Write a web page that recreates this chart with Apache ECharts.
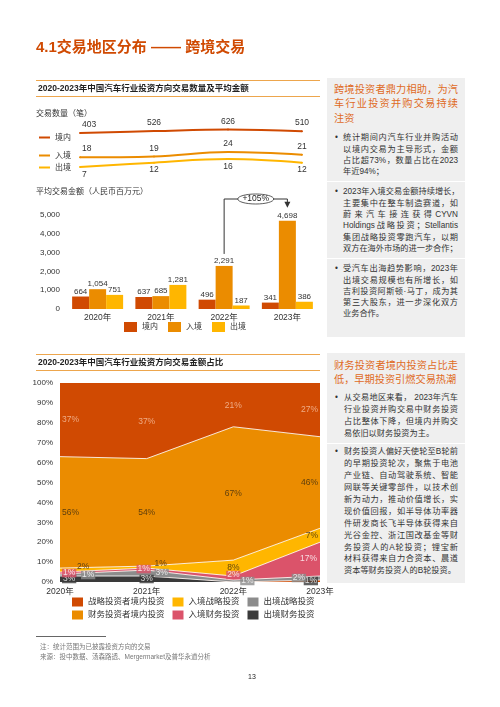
<!DOCTYPE html>
<html lang="zh-CN">
<head>
<meta charset="utf-8">
<title>4.1交易地区分布 —— 跨境交易</title>
<script src="https://cdn.jsdelivr.net/npm/echarts@6.0.0/dist/echarts.min.js"></script>
<style>
html,body{margin:0;padding:0;background:#fff;}
body{width:500px;height:707px;position:relative;overflow:hidden;font-family:"Liberation Sans","Noto Sans CJK SC",sans-serif;color:#333;}
#chart{position:absolute;left:0;top:0;width:500px;height:707px;}
.ov{position:absolute;z-index:2;}
.title{left:36px;top:37px;font-size:15px;line-height:20px;font-weight:bold;color:#D04A02;white-space:nowrap;}
.hdr{left:36px;width:284px;height:17px;box-sizing:border-box;border-top:1.5px solid #EDA64D;border-bottom:1.5px solid #EDA64D;font-size:8.5px;line-height:14px;font-weight:bold;color:#222;padding-left:2px;white-space:nowrap;}
.panel{left:327px;width:138px;background:#EFEFEF;box-sizing:border-box;padding-left:7px;padding-right:7px;}
.pt{color:#DF6B1F;font-size:10.2px;}
.ln{white-space:nowrap;text-align:justify;text-align-last:justify;}
.ln.last{text-align-last:left;}
.b{position:relative;padding-left:9px;font-size:8.2px;color:#333;}
.dot{position:absolute;left:1px;top:0;}
.sep{height:1px;background:#fff;margin-left:-7px;margin-right:-7px;}
#p1{top:78px;height:259px;padding-top:4.75px;}
#p1 .pt{line-height:14.5px;}
#p1 .b{line-height:11.3px;}
#p1 .b.first{margin-top:6px;}
#p1 .sep{margin-top:4px;margin-bottom:4px;}
#p2{top:353px;height:230px;padding-top:6.25px;}
#p2 .pt{line-height:13.5px;}
#p2 .b{line-height:11.9px;padding-left:10px;}
#p2 .b.first{margin-top:6px;}
#p2 .sep{margin-top:2.7px;margin-bottom:2.7px;}
.fline{left:36px;top:636px;width:70px;height:0;border-top:0.8px solid #666;}
.note{left:40px;top:642px;font-size:6.5px;line-height:10px;color:#777;white-space:nowrap;}
.pg{left:248px;top:672px;font-size:7px;line-height:10px;color:#222;}
</style>
</head>
<body>
<div id="chart"></div>

<div class="ov title">4.1交易地区分布 —— 跨境交易</div>
<div class="ov hdr" style="top:80px;">2020-2023年中国汽车行业投资方向交易数量及平均金额</div>
<div class="ov hdr" style="top:354px;">2020-2023年中国汽车行业投资方向交易金额占比</div>

<div class="ov panel" id="p1">
  <div class="pt">
    <div class="ln">跨境投资者鼎力相助，为汽</div>
    <div class="ln">车行业投资并购交易持续</div>
    <div class="ln last">注资</div>
  </div>
  <div class="b first"><span class="dot">•</span>
    <div class="ln">统计期间内汽车行业并购活动</div>
    <div class="ln">以境内交易为主导形式，金额</div>
    <div class="ln">占比超73%，数量占比在2023</div>
    <div class="ln last">年近94%；</div>
  </div>
  <div class="sep"></div>
  <div class="b"><span class="dot">•</span>
    <div class="ln">2023年入境交易金额持续增长，</div>
    <div class="ln">主要集中在整车制造赛道，如</div>
    <div class="ln">蔚来汽车接连获得CYVN</div>
    <div class="ln">Holdings战略投资；Stellantis</div>
    <div class="ln">集团战略投资零跑汽车，以期</div>
    <div class="ln last">双方在海外市场的进一步合作；</div>
  </div>
  <div class="sep"></div>
  <div class="b"><span class="dot">•</span>
    <div class="ln">受汽车出海趋势影响，2023年</div>
    <div class="ln">出境交易规模也有所增长，如</div>
    <div class="ln">吉利投资阿斯顿·马丁，成为其</div>
    <div class="ln">第三大股东，进一步深化双方</div>
    <div class="ln last">业务合作。</div>
  </div>
</div>

<div class="ov panel" id="p2">
  <div class="pt">
    <div class="ln">财务投资者境内投资占比走</div>
    <div class="ln last">低，早期投资引燃交易热潮</div>
  </div>
  <div class="b first"><span class="dot">•</span>
    <div class="ln">从交易地区来看， 2023年汽车</div>
    <div class="ln">行业投资并购交易中财务投资</div>
    <div class="ln">占比整体下降，但境内并购交</div>
    <div class="ln last">易依旧以财务投资为主。</div>
  </div>
  <div class="sep"></div>
  <div class="b"><span class="dot">•</span>
    <div class="ln">财务投资人偏好天使轮至B轮前</div>
    <div class="ln">的早期投资轮次，聚焦于电池</div>
    <div class="ln">产业链、自动驾驶系统、智能</div>
    <div class="ln">网联等关键零部件，以技术创</div>
    <div class="ln">新为动力，推动价值增长，实</div>
    <div class="ln">现价值回报，如半导体功率器</div>
    <div class="ln">件研发商长飞半导体获得来自</div>
    <div class="ln">光谷金控、浙江国改基金等财</div>
    <div class="ln">务投资人的A轮投资；锂宝新</div>
    <div class="ln">材料获得来自力合资本、晨道</div>
    <div class="ln last">资本等财务投资人的B轮投资。</div>
  </div>
</div>

<div class="ov fline"></div>
<div class="ov note">注：统计范围为已披露投资方向的交易<br>来源：投中数据、汤森路透、Mergermarket及普华永道分析</div>
<div class="ov pg">13</div>

<script>
// ---------- data ----------
const years = ['2020年', '2021年', '2022年', '2023年'];

// 交易数量（笔）
const countDomestic = [403, 526, 626, 510];
const countInbound = [18, 19, 24, 21];
const countOutbound = [7, 12, 16, 12];

// 平均交易金额（人民币百万元）
const avgDomestic = [664, 637, 496, 341];
const avgInbound = [1054, 685, 2291, 4698];
const avgOutbound = [751, 1281, 187, 386];
const growthLabel = '+105%';

// 交易金额占比（%）
const shareStratDomestic = [37, 37, 21, 27];
const shareFinDomestic = [56, 54, 67, 46];
const shareStratInbound = [2, 1, 8, 7];
const shareFinInbound = [1, 1, 2, 17];
const shareStratOutbound = [1, 3, 1, 2];
const shareFinOutbound = [3, 3, 0, 1];

// ---------- style ----------
const FF = '"Liberation Sans","Noto Sans CJK SC",sans-serif';
const C_RED = '#D04A02', C_ORG = '#EB8C00', C_YEL = '#FFB600',
      C_PINK = '#DB536A', C_GRAY = '#8C8C8C', C_DARK = '#3A3A3A';
const TXT = '#333';

const fmtK = v => Number(v).toLocaleString('en-US');
const firstLeft = arr => arr.map((v, i) => i === 0 ? { value: v, label: { align: 'left', offset: [2, 0] } } : v);

const chart = echarts.init(document.getElementById('chart'), null, { renderer: 'canvas' });

// ----- stacked share bands (bottom -> top) -----
const bands = [
  { name: '出境财务投资', vals: shareFinOutbound, color: C_DARK, lbl: { color: '#fff', backgroundColor: C_DARK, padding: [0, 1] } },
  { name: '出境战略投资', vals: shareStratOutbound, color: C_GRAY, lbl: { color: '#fff', backgroundColor: C_GRAY, padding: [0, 1] } },
  { name: '入境财务投资', vals: shareFinInbound, color: C_PINK, lbl: { color: '#fff', backgroundColor: C_PINK, padding: [0, 1] } },
  { name: '入境战略投资', vals: shareStratInbound, color: C_YEL, lbl: { color: '#3A2A10' } },
  { name: '财务投资者境内投资', vals: shareFinDomestic, color: C_ORG, lbl: { color: '#3A2A10' } },
  { name: '战略投资者境内投资', vals: shareStratDomestic, color: C_RED, lbl: { color: '#F8C4A6' } }
];
// small label nudges to avoid overlaps in thin bands: key "band-year"
const nudges = {
  '3-0': [15, -3], '1-0': [19, 0],
  '1-1': [15, 0], '2-1': [-3, 0], '3-1': [14, -3],
  '1-2': [14, 0], '2-2': [0, -3],
  '1-3': [-12, 0]
};

const areaSeries = bands.map((b, k) => ({
  name: b.name,
  type: 'line',
  xAxisIndex: 2, yAxisIndex: 3,
  stack: 'share',
  data: b.vals,
  symbol: 'none',
  color: b.color,
  lineStyle: { color: '#fff', width: k === bands.length - 1 ? 0 : 1, opacity: 0.85 },
  areaStyle: { color: b.color, opacity: 1 },
  silent: true,
  z: 2
}));

const cum = years.map(() => 0);
const labelSeries = bands.map((b, k) => {
  const data = [];
  b.vals.forEach((v, j) => {
    const mid = cum[j] + v / 2;
    cum[j] += v;
    if (v <= 0) return;
    const nd = nudges[k + '-' + j] || [0, 0];
    let align = 'center', dx = 0;
    if (j === 0) { align = 'left'; dx = 2; }
    if (j === years.length - 1) { align = 'right'; dx = -2; }
    data.push({
      value: [j, mid],
      pct: v,
      label: { align: align, offset: [dx + nd[0], nd[1]] }
    });
  });
  return {
    name: 'lbl-' + b.name,
    type: 'scatter',
    xAxisIndex: 2, yAxisIndex: 3,
    symbol: 'circle', symbolSize: 0,
    silent: true,
    z: 5,
    data: data,
    label: Object.assign({
      show: true, position: 'inside', fontSize: 8.5, fontFamily: FF,
      formatter: p => p.data.pct + '%'
    }, b.lbl)
  };
});

const legendBase = {
  selectedMode: false,
  padding: 0,
  orient: 'horizontal',
  textStyle: { fontSize: 8, color: TXT, fontFamily: FF }
};
const lineLegend = (name, color, top) => Object.assign({}, legendBase, {
  left: 39, top: top, itemWidth: 11, itemHeight: 2,
  data: [{ name: name, icon: 'rect', itemStyle: { color: color, borderWidth: 0 } }]
});
const rectItem = (name, color) => ({ name: name, icon: 'rect', itemStyle: { color: color, borderWidth: 0 } });

const option = {
  animation: false,
  backgroundColor: 'transparent',
  textStyle: { fontFamily: FF },
  title: [
    { text: '交易数量（笔）', left: 36, top: 110, padding: 0,
      textStyle: { fontSize: 8, fontWeight: 'normal', color: TXT, fontFamily: FF } },
    { text: '平均交易金额（人民币百万元）', left: 36, top: 188, padding: 0,
      textStyle: { fontSize: 8, fontWeight: 'normal', color: TXT, fontFamily: FF } }
  ],
  legend: [
    lineLegend('境内', C_RED, 133.5),
    lineLegend('入境', C_ORG, 151.5),
    lineLegend('出境', C_YEL, 163.5),
    Object.assign({}, legendBase, {
      left: 124, top: 322, itemWidth: 13, itemHeight: 10, itemGap: 10,
      data: [rectItem('境内', C_RED), rectItem('入境', C_ORG), rectItem('出境', C_YEL)]
    }),
    Object.assign({}, legendBase, {
      left: 72, top: 597.5, itemWidth: 11, itemHeight: 9, itemGap: 8,
      textStyle: { fontSize: 8.5, color: TXT, fontFamily: FF },
      data: [rectItem('战略投资者境内投资', C_RED), rectItem('入境战略投资', C_YEL), rectItem('出境战略投资', C_GRAY)]
    }),
    Object.assign({}, legendBase, {
      left: 72, top: 610.5, itemWidth: 11, itemHeight: 9, itemGap: 8,
      textStyle: { fontSize: 8.5, color: TXT, fontFamily: FF },
      data: [rectItem('财务投资者境内投资', C_ORG), rectItem('入境财务投资', C_PINK), rectItem('出境财务投资', C_DARK)]
    })
  ],
  grid: [
    { left: 80, right: 198, top: 115, height: 60 },
    { left: 66, right: 181, top: 215, bottom: 398 },
    { left: 60, right: 180, top: 383, bottom: 125, show: true, backgroundColor: C_RED, borderWidth: 0 }
  ],
  xAxis: [
    { gridIndex: 0, type: 'category', data: years, boundaryGap: false, show: false },
    { gridIndex: 1, type: 'category', data: years,
      axisLine: { show: false }, axisTick: { show: false },
      axisLabel: { fontSize: 8.5, color: TXT, margin: 4, fontFamily: FF } },
    { gridIndex: 2, type: 'category', data: years, boundaryGap: false,
      axisLine: { show: false }, axisTick: { show: false },
      axisLabel: { fontSize: 8.5, color: TXT, margin: 5, fontFamily: FF } }
  ],
  yAxis: [
    { gridIndex: 0, type: 'value', min: -2400, max: 1600, show: false },
    { gridIndex: 0, type: 'value', min: -2, max: 66, show: false },
    { gridIndex: 1, type: 'value', min: 0, max: 5000, interval: 1000,
      axisLine: { show: false }, axisTick: { show: false }, splitLine: { show: false },
      axisLabel: { fontSize: 8, color: TXT, margin: 6, fontFamily: FF, formatter: v => fmtK(v) } },
    { gridIndex: 2, type: 'value', min: 0, max: 100, interval: 10,
      axisLine: { show: false }, axisTick: { show: false }, splitLine: { show: false },
      axisLabel: { fontSize: 8, color: TXT, margin: 7, fontFamily: FF, formatter: '{value}%' } }
  ],
  series: [
    { name: '境内', type: 'line', xAxisIndex: 0, yAxisIndex: 0, data: firstLeft(countDomestic),
      color: C_RED, smooth: 0.4, symbol: 'circle', symbolSize: 2,
      lineStyle: { color: C_RED, width: 2 },
      label: { show: true, position: 'top', distance: 3, fontSize: 8.5, color: TXT, fontFamily: FF } },
    { name: '入境', type: 'line', xAxisIndex: 0, yAxisIndex: 1, data: firstLeft(countInbound),
      color: C_ORG, smooth: 0.4, symbol: 'circle', symbolSize: 2,
      lineStyle: { color: C_ORG, width: 2 },
      label: { show: true, position: 'top', distance: 3, fontSize: 8.5, color: TXT, fontFamily: FF } },
    { name: '出境', type: 'line', xAxisIndex: 0, yAxisIndex: 1, data: firstLeft(countOutbound),
      color: C_YEL, smooth: 0.4, symbol: 'circle', symbolSize: 2,
      lineStyle: { color: C_YEL, width: 2 },
      label: { show: true, position: 'bottom', distance: 2, fontSize: 8.5, color: TXT, fontFamily: FF } },

    { name: '境内', type: 'bar', xAxisIndex: 1, yAxisIndex: 2, data: avgDomestic,
      barWidth: 17, barGap: '0%', itemStyle: { color: C_RED },
      label: { show: true, position: 'top', distance: 1, fontSize: 8, color: TXT, fontFamily: FF, formatter: p => fmtK(p.value) } },
    { name: '入境', type: 'bar', xAxisIndex: 1, yAxisIndex: 2, data: avgInbound,
      barWidth: 17, barGap: '0%', itemStyle: { color: C_ORG },
      label: { show: true, position: 'top', distance: 1, fontSize: 8, color: TXT, fontFamily: FF, formatter: p => fmtK(p.value) } },
    { name: '出境', type: 'bar', xAxisIndex: 1, yAxisIndex: 2, data: avgOutbound,
      barWidth: 17, barGap: '0%', itemStyle: { color: C_YEL },
      label: { show: true, position: 'top', distance: 1, fontSize: 8, color: TXT, fontFamily: FF, formatter: p => fmtK(p.value) } }
  ].concat(areaSeries, labelSeries)
};

chart.setOption(option);

// ----- growth annotation (2022 -> 2023 入境) positioned from the bar axes -----
const pA = chart.convertToPixel({ gridIndex: 1 }, [2, avgInbound[2]]);
const pB = chart.convertToPixel({ gridIndex: 1 }, [3, avgInbound[3]]);
const yTop = chart.convertToPixel({ gridIndex: 1 }, [0, 5000])[1] - 16;
const midX = (pA[0] + pB[0]) / 2;
chart.setOption({
  graphic: [
    { type: 'polyline', z: 10, silent: true,
      shape: { points: [[pA[0], pA[1] - 12], [pA[0], yTop], [pB[0], yTop], [pB[0], pB[1] - 18]] },
      style: { stroke: '#333', lineWidth: 1, fill: null } },
    { type: 'polygon', z: 10, silent: true,
      shape: { points: [[pB[0] - 3, pB[1] - 19], [pB[0] + 3, pB[1] - 19], [pB[0], pB[1] - 13]] },
      style: { fill: '#333' } },
    { type: 'ellipse', z: 11, silent: true,
      shape: { cx: midX, cy: yTop, rx: 18, ry: 5 },
      style: { fill: '#fff', stroke: '#333', lineWidth: 0.8 } },
    { type: 'text', z: 12, silent: true, x: midX, y: yTop,
      style: { text: growthLabel, fontSize: 8.5, fontFamily: FF, fill: '#222',
               align: 'center', verticalAlign: 'middle', textAlign: 'center', textVerticalAlign: 'middle' } }
  ]
});
</script>
</body>
</html>
